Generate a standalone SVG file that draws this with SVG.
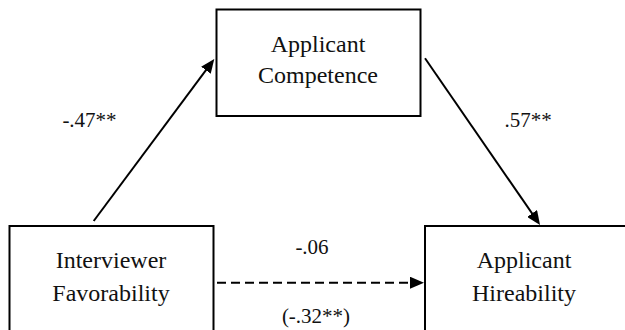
<svg xmlns="http://www.w3.org/2000/svg" width="625" height="330" viewBox="0 0 625 330">
<style>
.box{fill:#fff;stroke:#000;stroke-width:2}
.t{font-family:'Liberation Serif','Tinos','Times New Roman','DejaVu Serif',serif;font-size:24px;fill:#111;text-anchor:middle}
.l{font-family:'Liberation Serif','Tinos','Times New Roman','DejaVu Serif',serif;font-size:21px;fill:#111;text-anchor:middle}
.c{stroke:#000;stroke-width:2;fill:none}
.d{stroke-dasharray:9 5}
</style>
<defs>
<marker id="ah" markerUnits="userSpaceOnUse" markerWidth="14" markerHeight="12" refX="6" refY="6" orient="auto" viewBox="0 0 14 12">
<path d="M0,0 L14,6 L0,12 z" fill="#000"/>
</marker>
</defs>
<rect width="625" height="330" fill="#fff"/>
<g id="competence">
<rect class="box" x="216.5" y="9.5" width="204" height="106.5"/>
<text class="t" x="318" y="52" font-family="Liberation Serif, serif">Applicant</text>
<text class="t" x="318" y="83" font-family="Liberation Serif, serif">Competence</text>
</g>
<g id="favorability">
<rect class="box" x="9.5" y="226" width="204" height="120"/>
<text class="t" x="111" y="268" font-family="Liberation Serif, serif">Interviewer</text>
<text class="t" x="111" y="301" font-family="Liberation Serif, serif">Favorability</text>
</g>
<g id="hireability">
<rect class="box" x="425" y="226" width="220" height="120"/>
<text class="t" x="524" y="268" font-family="Liberation Serif, serif">Applicant</text>
<text class="t" x="524" y="301" font-family="Liberation Serif, serif">Hireability</text>
</g>
<g id="connectors">
<line class="c" x1="93.7" y1="221" x2="209.5" y2="65.4" marker-end="url(#ah)"/>
<line class="c" x1="425" y1="58.3" x2="535.5" y2="218.4" marker-end="url(#ah)"/>
<line class="c d" x1="217" y1="282.7" x2="416" y2="282.7" marker-end="url(#ah)"/>
</g>
<g id="labels">
<text class="l" x="89.5" y="126.7" font-family="Liberation Serif, serif">-.47**</text>
<text class="l" x="528" y="126.7" font-family="Liberation Serif, serif">.57**</text>
<text class="l" x="312" y="253.5" font-family="Liberation Serif, serif">-.06</text>
<text class="l" x="316" y="323" font-family="Liberation Serif, serif">(-.32**)</text>
</g>
</svg>
